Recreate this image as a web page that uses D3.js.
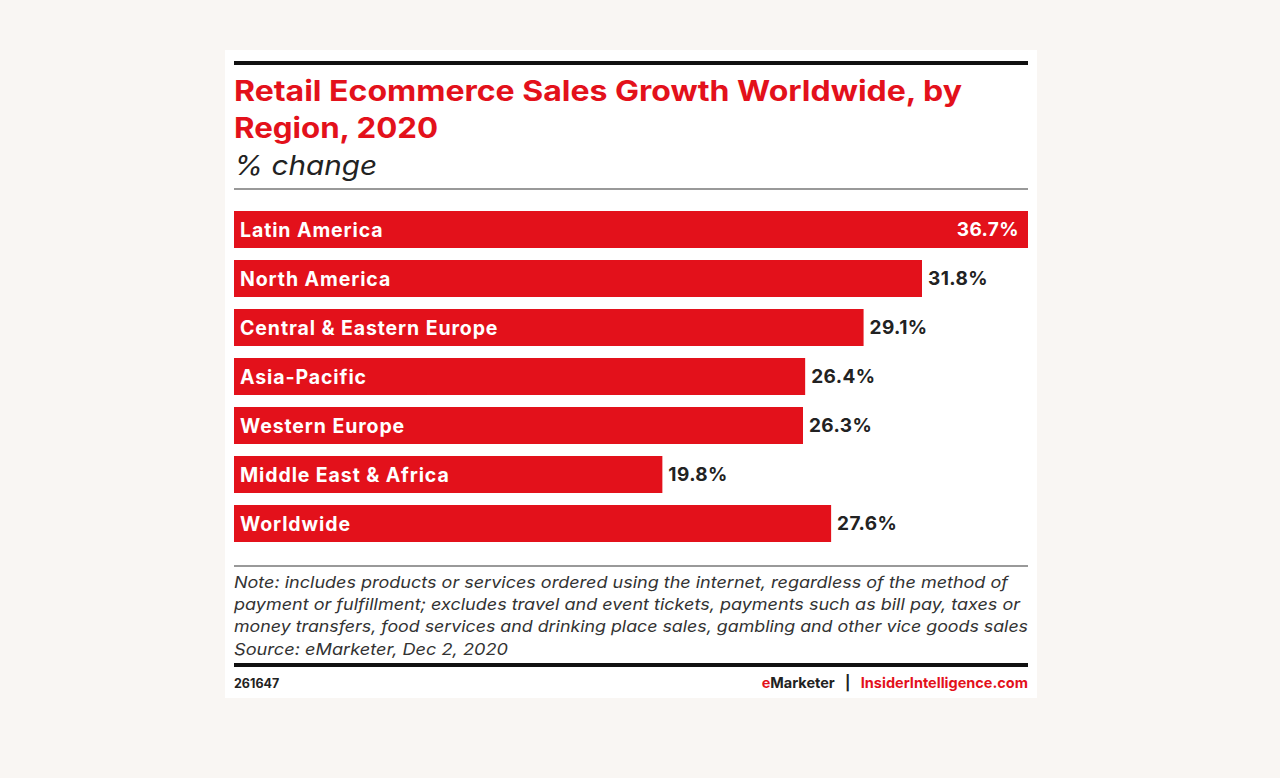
<!DOCTYPE html>
<html><head><meta charset="utf-8">
<script src="https://cdn.jsdelivr.net/npm/d3@7"></script>
<style>
html,body{margin:0;padding:0;background:#f9f6f3;}
svg{display:block;}
text{font-family:Inter,"Open Sans",sans-serif;}
</style></head>
<body>
<script>
const categories = ["Latin America","North America","Central & Eastern Europe","Asia-Pacific","Western Europe","Middle East & Africa","Worldwide"];
const values = [36.7, 31.8, 29.1, 26.4, 26.3, 19.8, 27.6];
const valueLabels = ["36.7%","31.8%","29.1%","26.4%","26.3%","19.8%","27.6%"];
const titleLines = ["Retail Ecommerce Sales Growth Worldwide, by","Region, 2020"];
const subtitle = "% change";
const noteLines = [
 "Note: includes products or services ordered using the internet, regardless of the method of",
 "payment or fulfillment; excludes travel and event tickets, payments such as bill pay, taxes or",
 "money transfers, food services and drinking place sales, gambling and other vice goods sales",
 "Source: eMarketer, Dec 2, 2020"];
const chartId = "261647";

// approximate target widths (text metrics only)
const titleWidths=[728,204], noteWidths=[774,786,794,274];

const W=1280,H=778;
const svg=d3.select("body").append("svg").attr("width",W).attr("height",H);
svg.append("rect").attr("width",W).attr("height",H).attr("fill","#f9f6f3");
svg.append("rect").attr("x",225).attr("y",50).attr("width",812).attr("height",648).attr("fill","#ffffff");

function fit(sel,w){
  sel.each(function(){
    const n=this.getComputedTextLength();
    if(Math.abs(n-w)>2) d3.select(this).attr("textLength",w).attr("lengthAdjust","spacingAndGlyphs");
  });
  return sel;
}

const L=234,R=1028;
const red="#e3111b";
svg.append("rect").attr("x",L).attr("y",61).attr("width",R-L).attr("height",4).attr("fill","#111");
titleLines.forEach((t,i)=>fit(svg.append("text").attr("x",L).attr("y",101+i*37)
  .attr("font-size",28).attr("font-weight",700).attr("fill",red).text(t),titleWidths[i]));
fit(svg.append("text").attr("x",L).attr("y",175).attr("font-size",27).attr("font-style","italic")
  .attr("fill","#222").text(subtitle),143);
svg.append("rect").attr("x",L).attr("y",188).attr("width",R-L).attr("height",2).attr("fill","#999");

const x=d3.scaleLinear().domain([0,36.7]).range([L,R]);
const y=d3.scaleBand().domain(categories).range([211,542]).paddingInner(0.245).paddingOuter(0);

const g=svg.append("g");
g.selectAll("rect.bar").data(categories).join("rect").attr("class","bar")
  .attr("x",x(0)).attr("y",d=>y(d)).attr("width",(d,i)=>x(values[i])-x(0))
  .attr("height",y.bandwidth()).attr("fill",red);
g.selectAll("text.cat").data(categories).join("text").attr("class","cat")
  .attr("x",L+6).attr("y",d=>y(d)+y.bandwidth()/2).attr("dy","0.36em")
  .attr("font-size",19.5).attr("font-weight",700).attr("letter-spacing",0.9).attr("fill","#fff").text(d=>d);
g.selectAll("text.val").data(categories).join("text").attr("class","val")
  .attr("x",(d,i)=> i===0 ? x(values[i])-9 : x(values[i])+6)
  .attr("text-anchor",(d,i)=> i===0?"end":"start")
  .attr("y",d=>y(d)+y.bandwidth()/2).attr("dy","0.36em")
  .attr("font-size",19).attr("font-weight",700).attr("letter-spacing",0.4)
  .attr("fill",(d,i)=> i===0?"#fff":"#222").text((d,i)=>valueLabels[i]);

svg.append("rect").attr("x",L).attr("y",565).attr("width",R-L).attr("height",2).attr("fill","#999");
noteLines.forEach((t,i)=>fit(svg.append("text").attr("x",L).attr("y",588+i*22.2)
  .attr("font-size",16.5).attr("font-style","italic").attr("fill","#333").text(t),noteWidths[i]));
svg.append("rect").attr("x",L).attr("y",663).attr("width",R-L).attr("height",4).attr("fill","#111");
svg.append("text").attr("x",L).attr("y",688).attr("font-size",12.5).attr("font-weight",700).attr("fill","#222").text(chartId);
const ft=svg.append("text").attr("x",R).attr("y",688).attr("text-anchor","end").attr("font-size",14.5).attr("font-weight",700)
  .attr("xml:space","preserve").style("white-space","pre");
ft.append("tspan").attr("fill",red).text("e");
ft.append("tspan").attr("fill","#222").text("Marketer   |   ");
ft.append("tspan").attr("fill",red).text("InsiderIntelligence.com");
</script>
</body></html>
